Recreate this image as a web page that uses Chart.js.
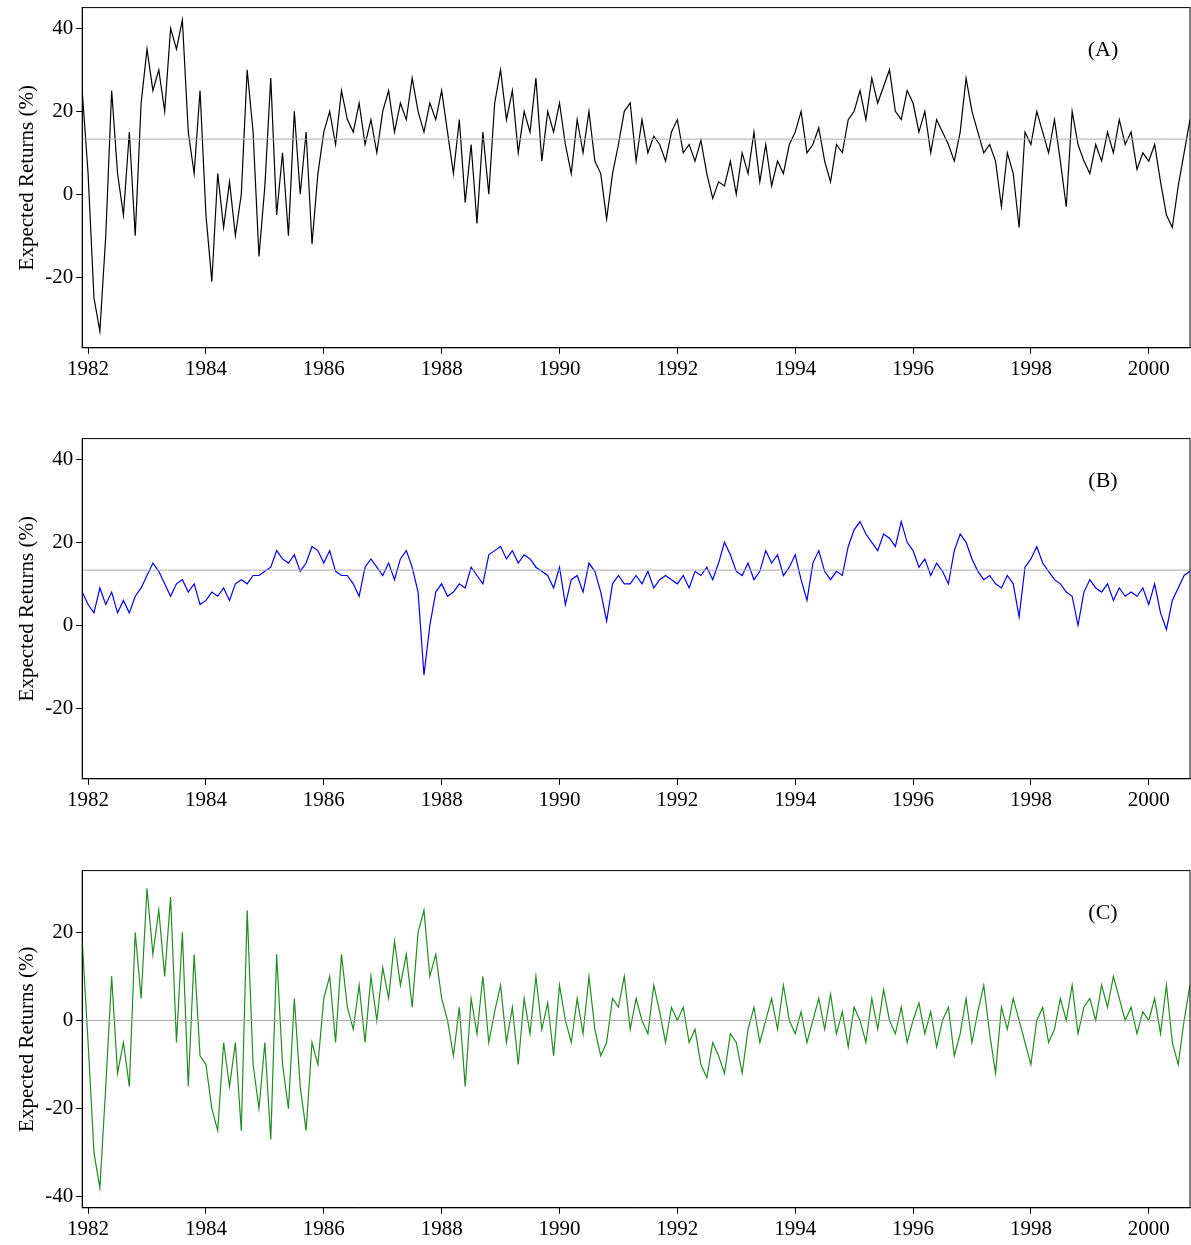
<!DOCTYPE html>
<html>
<head>
<meta charset="utf-8">
<script src="https://cdn.jsdelivr.net/npm/chart.js@4.4.0/dist/chart.umd.min.js"></script>
<style>
  body { margin: 0; background: #fff; overflow: hidden; }
  .panel { position: absolute; left: 0; width: 1191px; }
</style>
</head>
<body>
<div class="panel" style="top:-8px;height:393px"><canvas id="chart-a"></canvas></div>
<div class="panel" style="top:423px;height:393px"><canvas id="chart-b"></canvas></div>
<div class="panel" style="top:855px;height:390px"><canvas id="chart-c"></canvas></div>
<script>
// ============================================================
// Expected returns, three panels, 1981.9 - 2000.7
// ============================================================

const startYear = 1981.9;
const endYear = 2000.7;
const yearTicks = [1982, 1984, 1986, 1988, 1990, 1992, 1994, 1996, 1998, 2000];

const seriesA = [
  25,
  5, -25, -33, -10, 25, 5, -5, 15, -10, 22,
  35, 25, 30, 20, 40, 35, 42, 15, 5, 25,
  -5, -21, 5, -8, 3, -10, 0, 30, 15, -15,
  2, 28, -5, 10, -10, 20, 0, 15, -12, 5,
  15, 20, 12, 25, 18, 15, 22, 12, 18, 10,
  20, 25, 15, 22, 18, 28, 20, 15, 22, 18,
  25, 15, 5, 18, -2, 12, -7, 15, 0, 22,
  30, 18, 25, 10, 20, 15, 28, 8, 20, 15,
  22, 12, 5, 18, 10, 20, 8, 5, -6, 5,
  12, 20, 22, 8, 18, 10, 14, 12, 8, 15,
  18, 10, 12, 8, 13, 5, -1, 3, 2, 8,
  0, 10, 5, 15, 3, 12, 2, 8, 5, 12,
  15, 20, 10, 12, 16, 8, 3, 12, 10, 18,
  20, 25, 18, 28, 22, 26, 30, 20, 18, 25,
  22, 15, 20, 10, 18, 15, 12, 8, 15, 28,
  20, 15, 10, 12, 8, -3, 10, 5, -8, 15,
  12, 20, 15, 10, 18, 8, -3, 20, 12, 8,
  5, 12, 8, 15, 10, 18, 12, 15, 6, 10,
  8, 12, 3, -5, -8, 2, 10, 18
];

const seriesB = [
  8,
  5, 3, 9, 5, 8, 3, 6, 3, 7, 9,
  12, 15, 13, 10, 7, 10, 11, 8, 10, 5,
  6, 8, 7, 9, 6, 10, 11, 10, 12, 12,
  13, 14, 18, 16, 15, 17, 13, 15, 19, 18,
  15, 18, 13, 12, 12, 10, 7, 14, 16, 14,
  12, 15, 11, 16, 18, 14, 8, -12, 0, 8,
  10, 7, 8, 10, 9, 14, 12, 10, 17, 18,
  19, 16, 18, 15, 17, 16, 14, 13, 12, 9,
  14, 5, 11, 12, 8, 15, 13, 8, 1, 10,
  12, 10, 10, 12, 10, 13, 9, 11, 12, 11,
  10, 12, 9, 13, 12, 14, 11, 15, 20, 17,
  13, 12, 15, 11, 13, 18, 15, 17, 12, 14,
  17, 11, 6, 15, 18, 13, 11, 13, 12, 19,
  23, 25, 22, 20, 18, 22, 21, 19, 25, 20,
  18, 14, 16, 12, 15, 13, 10, 18, 22, 20,
  16, 13, 11, 12, 10, 9, 12, 10, 2, 14,
  16, 19, 15, 13, 11, 10, 8, 7, 0, 8,
  11, 9, 8, 10, 6, 9, 7, 8, 7, 9,
  5, 10, 3, -1, 6, 9, 12, 13
];

const seriesC = [
  18,
  -5, -30, -38, -15, 10, -12, -5, -15, 20, 5,
  30, 15, 25, 10, 28, -5, 20, -15, 15, -8,
  -10, -20, -25, -5, -15, -5, -25, 25, -10, -20,
  -5, -27, 15, -10, -20, 5, -15, -25, -5, -10,
  5, 10, -5, 15, 3, -2, 8, -5, 10, 0,
  12, 5, 18, 8, 15, 3, 20, 25, 10, 15,
  5, 0, -8, 3, -15, 5, -3, 10, -5, 2,
  8, -5, 3, -10, 5, -3, 10, -2, 4, -8,
  8, 0, -5, 5, -3, 10, -2, -8, -5, 5,
  3, 10, -2, 5, 0, -3, 8, 2, -5, 3,
  0, 3, -5, -2, -10, -13, -5, -8, -12, -3,
  -5, -12, -2, 3, -5, 0, 5, -2, 8, 0,
  -3, 2, -5, 0, 5, -2, 6, -3, 2, -6,
  3, 0, -5, 5, -2, 7, 0, -3, 3, -5,
  0, 4, -3, 2, -6, 0, 3, -8, -3, 5,
  -5, 2, 8, -3, -12, 3, -2, 5, 0, -5,
  -10, 0, 3, -5, -2, 5, 0, 8, -3, 3,
  5, 0, 8, 3, 10, 5, 0, 3, -3, 2,
  0, 5, -3, 8, -5, -10, 0, 8
];

const meanA = 13.3;
const meanB = 13.3;
const meanC = 0;

function toPoints(values) {
  const n = values.length;
  return values.map((v, i) => ({
    x: startYear + (i * (endYear - startYear)) / (n - 1),
    y: v,
  }));
}

const frameAndLabel = {
  id: "frameAndLabel",
  afterDraw(chart, args, opts) {
    const { ctx, chartArea: a } = chart;
    ctx.save();
    ctx.strokeStyle = "#000";
    ctx.lineWidth = 1;
    ctx.strokeRect(a.left, a.top, a.right - a.left, a.bottom - a.top);
    ctx.fillStyle = "#000";
    ctx.font = "22px 'Liberation Serif'";
    ctx.textAlign = "center";
    ctx.fillText(opts.label, a.right - 87, a.top + 48);
    ctx.restore();
  },
};

function makeChart(id, values, mean, color, label, yMin, yMax, yStep) {
  const ctx = document.getElementById(id);
  const pts = toPoints(values);
  return new Chart(ctx, {
    type: "line",
    data: {
      datasets: [
        {
          data: [
            { x: startYear, y: mean },
            { x: endYear, y: mean },
          ],
          borderColor: "#aaaaaa",
          borderWidth: 1,
          pointRadius: 0,
        },
        {
          data: pts,
          borderColor: color,
          borderWidth: 1.2,
          pointRadius: 0,
          tension: 0,
        },
      ],
    },
    options: {
      responsive: true,
      maintainAspectRatio: false,
      animation: false,
      layout: { padding: { top: 0, right: 1, left: 13 } },
      plugins: {
        legend: { display: false },
        tooltip: { enabled: false },
        frameAndLabel: { label },
      },
      scales: {
        x: {
          type: "linear",
          min: startYear,
          max: endYear,
          afterBuildTicks: (axis) => {
            axis.ticks = yearTicks.map((v) => ({ value: v }));
          },
          grid: { drawOnChartArea: false, tickLength: 6, color: "#000" },
          border: { color: "#000" },
          ticks: {
            color: "#000",
            font: { family: "Liberation Serif", size: 21 },
            maxRotation: 0,
            callback: (v) => String(v),
          },
        },
        y: {
          min: yMin,
          max: yMax,
          grid: { drawOnChartArea: false, tickLength: 6, color: "#000" },
          border: { color: "#000" },
          afterBuildTicks: (axis) => {
            const t = [];
            for (let v = yStep[0]; v <= yStep[1]; v += 20) t.push({ value: v });
            axis.ticks = t;
          },
          ticks: {
            color: "#000",
            font: { family: "Liberation Serif", size: 21 },
          },
          title: {
            display: true,
            text: "Expected Returns (%)",
            color: "#000",
            font: { family: "Liberation Serif", size: 21 },
            padding: 2,
          },
        },
      },
    },
    plugins: [frameAndLabel],
  });
}

makeChart("chart-a", seriesA, meanA, "#000000", "(A)", -37, 45, [-20, 40]);
makeChart("chart-b", seriesB, meanB, "#0000ee", "(B)", -37, 45, [-20, 40]);
makeChart("chart-c", seriesC, meanC, "#228b22", "(C)", -42.5, 34, [-40, 20]);
</script>
</body>
</html>
